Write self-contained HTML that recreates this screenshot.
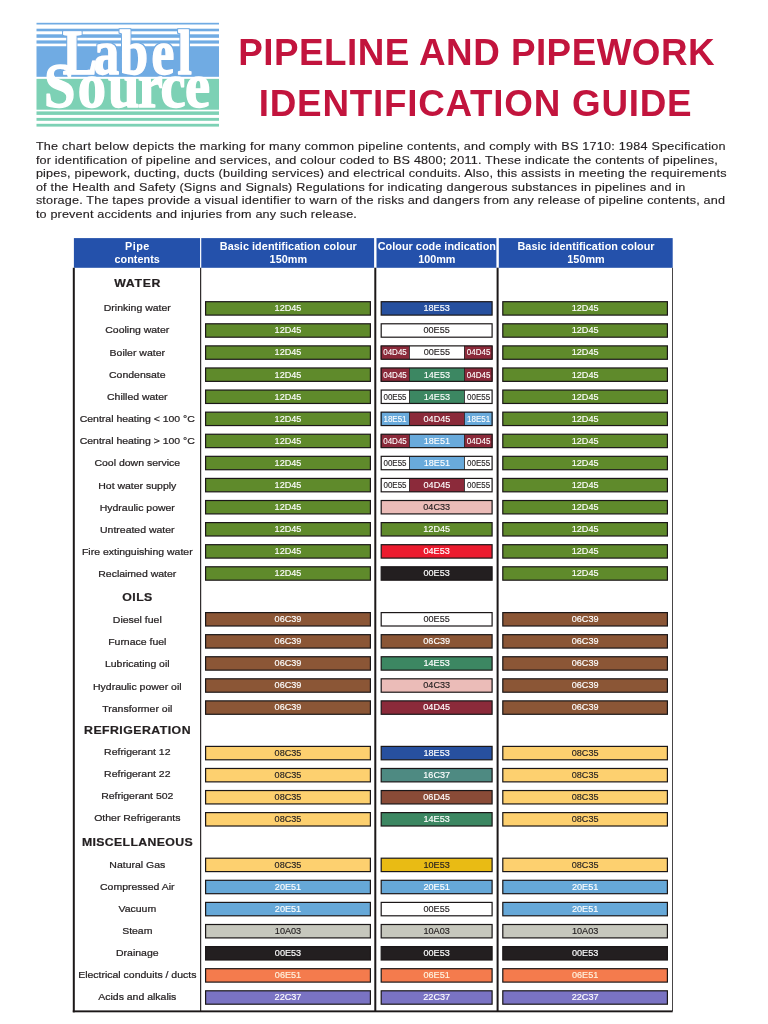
<!DOCTYPE html>
<html lang="en">
<head>
<meta charset="utf-8">
<title>Pipeline and Pipework Identification Guide</title>
<style>
html,body{margin:0;padding:0;background:#fff;}
body{width:768px;height:1024px;overflow:hidden;}
svg{display:block;}
text{white-space:pre;}
</style>
</head>
<body>
<svg width="768" height="1024" viewBox="0 0 768 1024">
<rect x="0" y="0" width="768" height="1024" fill="#ffffff"/>
<g id="logo">
<rect x="36.50" y="22.80" width="182.50" height="1.70" fill="#70abe3"/>
<rect x="36.50" y="28.70" width="182.50" height="2.60" fill="#70abe3"/>
<rect x="36.50" y="34.30" width="182.50" height="3.50" fill="#70abe3"/>
<rect x="36.50" y="40.40" width="182.50" height="3.20" fill="#70abe3"/>
<rect x="36.50" y="46.25" width="182.50" height="30.55" fill="#70abe3"/>
<rect x="36.50" y="78.85" width="182.50" height="30.85" fill="#7dd1b5"/>
<rect x="36.50" y="111.40" width="182.50" height="3.50" fill="#7dd1b5"/>
<rect x="36.50" y="117.90" width="182.50" height="2.90" fill="#7dd1b5"/>
<rect x="36.50" y="123.80" width="182.50" height="2.80" fill="#7dd1b5"/>
<defs><filter id="halo" x="-5%" y="-10%" width="110%" height="120%"><feMorphology in="SourceAlpha" operator="dilate" radius="1.3 1.05" result="d"/><feFlood flood-color="#70abe3"/><feComposite in2="d" operator="in" result="h"/><feMerge><feMergeNode in="h"/><feMergeNode in="SourceGraphic"/></feMerge></filter></defs>
<text transform="translate(62.8 73.5) scale(0.76 0.943)" font-family="'Liberation Serif', serif" font-weight="bold" font-size="67.5" fill="#ffffff" stroke="#ffffff" stroke-width="1.5" stroke-linejoin="round" filter="url(#halo)" x="0.00 40.53 74.74 116.84 151.05">Label</text>
<text transform="translate(44.0 107.0) scale(0.85 0.943)" font-family="'Liberation Serif', serif" font-weight="bold" font-size="66.5" fill="#ffffff" stroke="#ffffff" stroke-width="1.5" stroke-linejoin="round" x="0.00 39.65 75.29 110.35 136.94 165.76">Source</text>
</g>
<g id="title">
<text transform="translate(476.40 64.75)" font-family="'Liberation Sans', sans-serif" font-size="36.8" font-weight="bold" fill="#c2143d" text-anchor="middle" textLength="476.4" lengthAdjust="spacing">PIPELINE AND PIPEWORK</text>
<text transform="translate(475.20 115.85)" font-family="'Liberation Sans', sans-serif" font-size="36.8" font-weight="bold" fill="#c2143d" text-anchor="middle" textLength="432.8" lengthAdjust="spacing">IDENTIFICATION GUIDE</text>
</g>
<g id="intro">
<text transform="translate(35.90 150.00) scale(1.08 0.943)" font-family="'Liberation Sans', sans-serif" font-size="11.7" fill="#231f20" text-anchor="start" textLength="638.61" lengthAdjust="spacing" stroke="#231f20" stroke-width="0.15">The chart below depicts the marking for many common pipeline contents, and comply with BS 1710: 1984 Specification</text>
<text transform="translate(35.90 163.59) scale(1.08 0.943)" font-family="'Liberation Sans', sans-serif" font-size="11.7" fill="#231f20" text-anchor="start" textLength="631.30" lengthAdjust="spacing" stroke="#231f20" stroke-width="0.15">for identification of pipeline and services, and colour coded to BS 4800; 2011. These indicate the contents of pipelines,</text>
<text transform="translate(35.90 177.19) scale(1.08 0.943)" font-family="'Liberation Sans', sans-serif" font-size="11.7" fill="#231f20" text-anchor="start" textLength="639.54" lengthAdjust="spacing" stroke="#231f20" stroke-width="0.15">pipes, pipework, ducting, ducts (building services) and electrical conduits. Also, this assists in meeting the requirements</text>
<text transform="translate(35.90 190.78) scale(1.08 0.943)" font-family="'Liberation Sans', sans-serif" font-size="11.7" fill="#231f20" text-anchor="start" textLength="601.39" lengthAdjust="spacing" stroke="#231f20" stroke-width="0.15">of the Health and Safety (Signs and Signals) Regulations for indicating dangerous substances in pipelines and in</text>
<text transform="translate(35.90 204.38) scale(1.08 0.943)" font-family="'Liberation Sans', sans-serif" font-size="11.7" fill="#231f20" text-anchor="start" textLength="638.06" lengthAdjust="spacing" stroke="#231f20" stroke-width="0.15">storage. The tapes provide a visual identifier to warn of the risks and dangers from any release of pipeline contents, and</text>
<text transform="translate(35.90 217.97) scale(1.08 0.943)" font-family="'Liberation Sans', sans-serif" font-size="11.7" fill="#231f20" text-anchor="start" textLength="297.22" lengthAdjust="spacing" stroke="#231f20" stroke-width="0.15">to prevent accidents and injuries from any such release.</text>
</g>
<g id="chart">
<rect x="73.90" y="238.10" width="598.80" height="29.70" fill="#2451ab"/>
<rect x="200.05" y="237.90" width="1.20" height="29.90" fill="#ffffff"/>
<rect x="374.10" y="237.90" width="2.40" height="29.90" fill="#ffffff"/>
<rect x="496.40" y="237.90" width="2.40" height="29.90" fill="#ffffff"/>
<rect x="72.80" y="267.80" width="2.00" height="744.50" fill="#1b1718"/>
<rect x="72.80" y="1010.40" width="599.90" height="1.90" fill="#1b1718"/>
<rect x="672.00" y="267.80" width="0.80" height="743.20" fill="#1b1718"/>
<rect x="200.10" y="267.80" width="1.10" height="743.20" fill="#1b1718"/>
<rect x="374.30" y="267.80" width="2.00" height="743.20" fill="#1b1718"/>
<rect x="496.60" y="267.80" width="2.00" height="743.20" fill="#1b1718"/>
<text transform="translate(137.20 250.10) scale(0.96 0.943)" font-family="'Liberation Sans', sans-serif" font-size="11.3" font-weight="bold" fill="#fff" text-anchor="middle" textLength="25.31" lengthAdjust="spacing">Pipe</text>
<text transform="translate(137.20 263.30) scale(0.96 0.943)" font-family="'Liberation Sans', sans-serif" font-size="11.3" font-weight="bold" fill="#fff" text-anchor="middle" textLength="47.19" lengthAdjust="spacing">contents</text>
<text transform="translate(288.30 250.10) scale(0.96 0.943)" font-family="'Liberation Sans', sans-serif" font-size="11.3" font-weight="bold" fill="#fff" text-anchor="middle" textLength="142.81" lengthAdjust="spacing">Basic identification colour</text>
<text transform="translate(288.30 263.30) scale(0.96 0.943)" font-family="'Liberation Sans', sans-serif" font-size="11.3" font-weight="bold" fill="#fff" text-anchor="middle" textLength="39.06" lengthAdjust="spacing">150mm</text>
<text transform="translate(436.80 250.10) scale(0.96 0.943)" font-family="'Liberation Sans', sans-serif" font-size="11.3" font-weight="bold" fill="#fff" text-anchor="middle" textLength="123.23" lengthAdjust="spacing">Colour code indication</text>
<text transform="translate(436.80 263.30) scale(0.96 0.943)" font-family="'Liberation Sans', sans-serif" font-size="11.3" font-weight="bold" fill="#fff" text-anchor="middle" textLength="38.85" lengthAdjust="spacing">100mm</text>
<text transform="translate(586.00 250.10) scale(0.96 0.943)" font-family="'Liberation Sans', sans-serif" font-size="11.3" font-weight="bold" fill="#fff" text-anchor="middle" textLength="142.81" lengthAdjust="spacing">Basic identification colour</text>
<text transform="translate(586.00 263.30) scale(0.96 0.943)" font-family="'Liberation Sans', sans-serif" font-size="11.3" font-weight="bold" fill="#fff" text-anchor="middle" textLength="39.06" lengthAdjust="spacing">150mm</text>
<text transform="translate(137.28 287.00) scale(1.15 0.943)" font-family="'Liberation Sans', sans-serif" font-size="10.7" font-weight="bold" fill="#231f20" text-anchor="middle" textLength="40.26" lengthAdjust="spacing" stroke="#231f20" stroke-width="0.2">WATER</text>
<text transform="translate(137.28 311.16) scale(1.0 0.943)" font-family="'Liberation Sans', sans-serif" font-size="10.5" fill="#231f20" text-anchor="middle" stroke="#231f20" stroke-width="0.25">Drinking water</text>
<rect x="205.60" y="301.70" width="164.80" height="13.40" fill="#5f8a2b" stroke="#1b1718" stroke-width="1.2"/>
<text transform="translate(288.00 311.30) scale(1.0 0.943)" font-family="'Liberation Sans', sans-serif" font-size="9.1" fill="#fff" text-anchor="middle" stroke="#fff" stroke-width="0.15">12D45</text>
<rect x="381.20" y="301.70" width="110.90" height="13.40" fill="#27509f" stroke="#1b1718" stroke-width="1.2"/>
<text transform="translate(436.65 311.30) scale(1.0 0.943)" font-family="'Liberation Sans', sans-serif" font-size="9.1" fill="#fff" text-anchor="middle" stroke="#fff" stroke-width="0.15">18E53</text>
<rect x="502.80" y="301.70" width="164.60" height="13.40" fill="#5f8a2b" stroke="#1b1718" stroke-width="1.2"/>
<text transform="translate(585.10 311.30) scale(1.0 0.943)" font-family="'Liberation Sans', sans-serif" font-size="9.1" fill="#fff" text-anchor="middle" stroke="#fff" stroke-width="0.15">12D45</text>
<text transform="translate(137.28 333.34) scale(1.0 0.943)" font-family="'Liberation Sans', sans-serif" font-size="10.5" fill="#231f20" text-anchor="middle" stroke="#231f20" stroke-width="0.25">Cooling water</text>
<rect x="205.60" y="323.79" width="164.80" height="13.40" fill="#5f8a2b" stroke="#1b1718" stroke-width="1.2"/>
<text transform="translate(288.00 333.39) scale(1.0 0.943)" font-family="'Liberation Sans', sans-serif" font-size="9.1" fill="#fff" text-anchor="middle" stroke="#fff" stroke-width="0.15">12D45</text>
<rect x="381.20" y="323.79" width="110.90" height="13.40" fill="#ffffff" stroke="#1b1718" stroke-width="1.2"/>
<text transform="translate(436.65 333.39) scale(1.0 0.943)" font-family="'Liberation Sans', sans-serif" font-size="9.1" fill="#231f20" text-anchor="middle" stroke="#231f20" stroke-width="0.15">00E55</text>
<rect x="502.80" y="323.79" width="164.60" height="13.40" fill="#5f8a2b" stroke="#1b1718" stroke-width="1.2"/>
<text transform="translate(585.10 333.39) scale(1.0 0.943)" font-family="'Liberation Sans', sans-serif" font-size="9.1" fill="#fff" text-anchor="middle" stroke="#fff" stroke-width="0.15">12D45</text>
<text transform="translate(137.28 355.52) scale(1.0 0.943)" font-family="'Liberation Sans', sans-serif" font-size="10.5" fill="#231f20" text-anchor="middle" stroke="#231f20" stroke-width="0.25">Boiler water</text>
<rect x="205.60" y="345.88" width="164.80" height="13.40" fill="#5f8a2b" stroke="#1b1718" stroke-width="1.2"/>
<text transform="translate(288.00 355.48) scale(1.0 0.943)" font-family="'Liberation Sans', sans-serif" font-size="9.1" fill="#fff" text-anchor="middle" stroke="#fff" stroke-width="0.15">12D45</text>
<rect x="380.60" y="345.78" width="28.80" height="13.60" fill="#8b2a3a"/>
<rect x="409.40" y="345.78" width="55.00" height="13.60" fill="#ffffff"/>
<rect x="464.40" y="345.78" width="28.30" height="13.60" fill="#8b2a3a"/>
<rect x="381.20" y="345.88" width="110.90" height="13.40" fill="none" stroke="#1b1718" stroke-width="1.2"/>
<rect x="409.00" y="345.78" width="0.80" height="13.60" fill="#1b1718"/>
<rect x="464.00" y="345.78" width="0.80" height="13.60" fill="#1b1718"/>
<text transform="translate(395.00 355.48) scale(0.88 0.943)" font-family="'Liberation Sans', sans-serif" font-size="9.1" fill="#fff" text-anchor="middle" stroke="#fff" stroke-width="0.12">04D45</text>
<text transform="translate(436.90 355.48) scale(1.0 0.943)" font-family="'Liberation Sans', sans-serif" font-size="9.1" fill="#231f20" text-anchor="middle" stroke="#231f20" stroke-width="0.12">00E55</text>
<text transform="translate(478.55 355.48) scale(0.88 0.943)" font-family="'Liberation Sans', sans-serif" font-size="9.1" fill="#fff" text-anchor="middle" stroke="#fff" stroke-width="0.12">04D45</text>
<rect x="502.80" y="345.88" width="164.60" height="13.40" fill="#5f8a2b" stroke="#1b1718" stroke-width="1.2"/>
<text transform="translate(585.10 355.48) scale(1.0 0.943)" font-family="'Liberation Sans', sans-serif" font-size="9.1" fill="#fff" text-anchor="middle" stroke="#fff" stroke-width="0.15">12D45</text>
<text transform="translate(137.28 377.70) scale(1.0 0.943)" font-family="'Liberation Sans', sans-serif" font-size="10.5" fill="#231f20" text-anchor="middle" stroke="#231f20" stroke-width="0.25">Condensate</text>
<rect x="205.60" y="367.97" width="164.80" height="13.40" fill="#5f8a2b" stroke="#1b1718" stroke-width="1.2"/>
<text transform="translate(288.00 377.57) scale(1.0 0.943)" font-family="'Liberation Sans', sans-serif" font-size="9.1" fill="#fff" text-anchor="middle" stroke="#fff" stroke-width="0.15">12D45</text>
<rect x="380.60" y="367.87" width="28.80" height="13.60" fill="#8b2a3a"/>
<rect x="409.40" y="367.87" width="55.00" height="13.60" fill="#3c8762"/>
<rect x="464.40" y="367.87" width="28.30" height="13.60" fill="#8b2a3a"/>
<rect x="381.20" y="367.97" width="110.90" height="13.40" fill="none" stroke="#1b1718" stroke-width="1.2"/>
<rect x="409.00" y="367.87" width="0.80" height="13.60" fill="#1b1718"/>
<rect x="464.00" y="367.87" width="0.80" height="13.60" fill="#1b1718"/>
<text transform="translate(395.00 377.57) scale(0.88 0.943)" font-family="'Liberation Sans', sans-serif" font-size="9.1" fill="#fff" text-anchor="middle" stroke="#fff" stroke-width="0.12">04D45</text>
<text transform="translate(436.90 377.57) scale(1.0 0.943)" font-family="'Liberation Sans', sans-serif" font-size="9.1" fill="#fff" text-anchor="middle" stroke="#fff" stroke-width="0.12">14E53</text>
<text transform="translate(478.55 377.57) scale(0.88 0.943)" font-family="'Liberation Sans', sans-serif" font-size="9.1" fill="#fff" text-anchor="middle" stroke="#fff" stroke-width="0.12">04D45</text>
<rect x="502.80" y="367.97" width="164.60" height="13.40" fill="#5f8a2b" stroke="#1b1718" stroke-width="1.2"/>
<text transform="translate(585.10 377.57) scale(1.0 0.943)" font-family="'Liberation Sans', sans-serif" font-size="9.1" fill="#fff" text-anchor="middle" stroke="#fff" stroke-width="0.15">12D45</text>
<text transform="translate(137.28 399.88) scale(1.0 0.943)" font-family="'Liberation Sans', sans-serif" font-size="10.5" fill="#231f20" text-anchor="middle" stroke="#231f20" stroke-width="0.25">Chilled water</text>
<rect x="205.60" y="390.06" width="164.80" height="13.40" fill="#5f8a2b" stroke="#1b1718" stroke-width="1.2"/>
<text transform="translate(288.00 399.66) scale(1.0 0.943)" font-family="'Liberation Sans', sans-serif" font-size="9.1" fill="#fff" text-anchor="middle" stroke="#fff" stroke-width="0.15">12D45</text>
<rect x="380.60" y="389.96" width="28.80" height="13.60" fill="#ffffff"/>
<rect x="409.40" y="389.96" width="55.00" height="13.60" fill="#3c8762"/>
<rect x="464.40" y="389.96" width="28.30" height="13.60" fill="#ffffff"/>
<rect x="381.20" y="390.06" width="110.90" height="13.40" fill="none" stroke="#1b1718" stroke-width="1.2"/>
<rect x="409.00" y="389.96" width="0.80" height="13.60" fill="#1b1718"/>
<rect x="464.00" y="389.96" width="0.80" height="13.60" fill="#1b1718"/>
<text transform="translate(395.00 399.66) scale(0.88 0.943)" font-family="'Liberation Sans', sans-serif" font-size="9.1" fill="#231f20" text-anchor="middle" stroke="#231f20" stroke-width="0.12">00E55</text>
<text transform="translate(436.90 399.66) scale(1.0 0.943)" font-family="'Liberation Sans', sans-serif" font-size="9.1" fill="#fff" text-anchor="middle" stroke="#fff" stroke-width="0.12">14E53</text>
<text transform="translate(478.55 399.66) scale(0.88 0.943)" font-family="'Liberation Sans', sans-serif" font-size="9.1" fill="#231f20" text-anchor="middle" stroke="#231f20" stroke-width="0.12">00E55</text>
<rect x="502.80" y="390.06" width="164.60" height="13.40" fill="#5f8a2b" stroke="#1b1718" stroke-width="1.2"/>
<text transform="translate(585.10 399.66) scale(1.0 0.943)" font-family="'Liberation Sans', sans-serif" font-size="9.1" fill="#fff" text-anchor="middle" stroke="#fff" stroke-width="0.15">12D45</text>
<text transform="translate(137.28 422.06) scale(1.0 0.943)" font-family="'Liberation Sans', sans-serif" font-size="10.5" fill="#231f20" text-anchor="middle" stroke="#231f20" stroke-width="0.25">Central heating &lt; 100 °C</text>
<rect x="205.60" y="412.15" width="164.80" height="13.40" fill="#5f8a2b" stroke="#1b1718" stroke-width="1.2"/>
<text transform="translate(288.00 421.75) scale(1.0 0.943)" font-family="'Liberation Sans', sans-serif" font-size="9.1" fill="#fff" text-anchor="middle" stroke="#fff" stroke-width="0.15">12D45</text>
<rect x="380.60" y="412.05" width="28.80" height="13.60" fill="#69aadb"/>
<rect x="409.40" y="412.05" width="55.00" height="13.60" fill="#8b2a3a"/>
<rect x="464.40" y="412.05" width="28.30" height="13.60" fill="#69aadb"/>
<rect x="381.20" y="412.15" width="110.90" height="13.40" fill="none" stroke="#1b1718" stroke-width="1.2"/>
<rect x="409.00" y="412.05" width="0.80" height="13.60" fill="#1b1718"/>
<rect x="464.00" y="412.05" width="0.80" height="13.60" fill="#1b1718"/>
<text transform="translate(395.00 421.75) scale(0.88 0.943)" font-family="'Liberation Sans', sans-serif" font-size="9.1" fill="#fff" text-anchor="middle" stroke="#fff" stroke-width="0.12">18E51</text>
<text transform="translate(436.90 421.75) scale(1.0 0.943)" font-family="'Liberation Sans', sans-serif" font-size="9.1" fill="#fff" text-anchor="middle" stroke="#fff" stroke-width="0.12">04D45</text>
<text transform="translate(478.55 421.75) scale(0.88 0.943)" font-family="'Liberation Sans', sans-serif" font-size="9.1" fill="#fff" text-anchor="middle" stroke="#fff" stroke-width="0.12">18E51</text>
<rect x="502.80" y="412.15" width="164.60" height="13.40" fill="#5f8a2b" stroke="#1b1718" stroke-width="1.2"/>
<text transform="translate(585.10 421.75) scale(1.0 0.943)" font-family="'Liberation Sans', sans-serif" font-size="9.1" fill="#fff" text-anchor="middle" stroke="#fff" stroke-width="0.15">12D45</text>
<text transform="translate(137.28 444.24) scale(1.0 0.943)" font-family="'Liberation Sans', sans-serif" font-size="10.5" fill="#231f20" text-anchor="middle" stroke="#231f20" stroke-width="0.25">Central heating &gt; 100 °C</text>
<rect x="205.60" y="434.24" width="164.80" height="13.40" fill="#5f8a2b" stroke="#1b1718" stroke-width="1.2"/>
<text transform="translate(288.00 443.84) scale(1.0 0.943)" font-family="'Liberation Sans', sans-serif" font-size="9.1" fill="#fff" text-anchor="middle" stroke="#fff" stroke-width="0.15">12D45</text>
<rect x="380.60" y="434.14" width="28.80" height="13.60" fill="#8b2a3a"/>
<rect x="409.40" y="434.14" width="55.00" height="13.60" fill="#69aadb"/>
<rect x="464.40" y="434.14" width="28.30" height="13.60" fill="#8b2a3a"/>
<rect x="381.20" y="434.24" width="110.90" height="13.40" fill="none" stroke="#1b1718" stroke-width="1.2"/>
<rect x="409.00" y="434.14" width="0.80" height="13.60" fill="#1b1718"/>
<rect x="464.00" y="434.14" width="0.80" height="13.60" fill="#1b1718"/>
<text transform="translate(395.00 443.84) scale(0.88 0.943)" font-family="'Liberation Sans', sans-serif" font-size="9.1" fill="#fff" text-anchor="middle" stroke="#fff" stroke-width="0.12">04D45</text>
<text transform="translate(436.90 443.84) scale(1.0 0.943)" font-family="'Liberation Sans', sans-serif" font-size="9.1" fill="#fff" text-anchor="middle" stroke="#fff" stroke-width="0.12">18E51</text>
<text transform="translate(478.55 443.84) scale(0.88 0.943)" font-family="'Liberation Sans', sans-serif" font-size="9.1" fill="#fff" text-anchor="middle" stroke="#fff" stroke-width="0.12">04D45</text>
<rect x="502.80" y="434.24" width="164.60" height="13.40" fill="#5f8a2b" stroke="#1b1718" stroke-width="1.2"/>
<text transform="translate(585.10 443.84) scale(1.0 0.943)" font-family="'Liberation Sans', sans-serif" font-size="9.1" fill="#fff" text-anchor="middle" stroke="#fff" stroke-width="0.15">12D45</text>
<text transform="translate(137.28 466.42) scale(1.0 0.943)" font-family="'Liberation Sans', sans-serif" font-size="10.5" fill="#231f20" text-anchor="middle" stroke="#231f20" stroke-width="0.25">Cool down service</text>
<rect x="205.60" y="456.33" width="164.80" height="13.40" fill="#5f8a2b" stroke="#1b1718" stroke-width="1.2"/>
<text transform="translate(288.00 465.93) scale(1.0 0.943)" font-family="'Liberation Sans', sans-serif" font-size="9.1" fill="#fff" text-anchor="middle" stroke="#fff" stroke-width="0.15">12D45</text>
<rect x="380.60" y="456.23" width="28.80" height="13.60" fill="#ffffff"/>
<rect x="409.40" y="456.23" width="55.00" height="13.60" fill="#69aadb"/>
<rect x="464.40" y="456.23" width="28.30" height="13.60" fill="#ffffff"/>
<rect x="381.20" y="456.33" width="110.90" height="13.40" fill="none" stroke="#1b1718" stroke-width="1.2"/>
<rect x="409.00" y="456.23" width="0.80" height="13.60" fill="#1b1718"/>
<rect x="464.00" y="456.23" width="0.80" height="13.60" fill="#1b1718"/>
<text transform="translate(395.00 465.93) scale(0.88 0.943)" font-family="'Liberation Sans', sans-serif" font-size="9.1" fill="#231f20" text-anchor="middle" stroke="#231f20" stroke-width="0.12">00E55</text>
<text transform="translate(436.90 465.93) scale(1.0 0.943)" font-family="'Liberation Sans', sans-serif" font-size="9.1" fill="#fff" text-anchor="middle" stroke="#fff" stroke-width="0.12">18E51</text>
<text transform="translate(478.55 465.93) scale(0.88 0.943)" font-family="'Liberation Sans', sans-serif" font-size="9.1" fill="#231f20" text-anchor="middle" stroke="#231f20" stroke-width="0.12">00E55</text>
<rect x="502.80" y="456.33" width="164.60" height="13.40" fill="#5f8a2b" stroke="#1b1718" stroke-width="1.2"/>
<text transform="translate(585.10 465.93) scale(1.0 0.943)" font-family="'Liberation Sans', sans-serif" font-size="9.1" fill="#fff" text-anchor="middle" stroke="#fff" stroke-width="0.15">12D45</text>
<text transform="translate(137.28 488.60) scale(1.0 0.943)" font-family="'Liberation Sans', sans-serif" font-size="10.5" fill="#231f20" text-anchor="middle" stroke="#231f20" stroke-width="0.25">Hot water supply</text>
<rect x="205.60" y="478.42" width="164.80" height="13.40" fill="#5f8a2b" stroke="#1b1718" stroke-width="1.2"/>
<text transform="translate(288.00 488.02) scale(1.0 0.943)" font-family="'Liberation Sans', sans-serif" font-size="9.1" fill="#fff" text-anchor="middle" stroke="#fff" stroke-width="0.15">12D45</text>
<rect x="380.60" y="478.32" width="28.80" height="13.60" fill="#ffffff"/>
<rect x="409.40" y="478.32" width="55.00" height="13.60" fill="#8b2a3a"/>
<rect x="464.40" y="478.32" width="28.30" height="13.60" fill="#ffffff"/>
<rect x="381.20" y="478.42" width="110.90" height="13.40" fill="none" stroke="#1b1718" stroke-width="1.2"/>
<rect x="409.00" y="478.32" width="0.80" height="13.60" fill="#1b1718"/>
<rect x="464.00" y="478.32" width="0.80" height="13.60" fill="#1b1718"/>
<text transform="translate(395.00 488.02) scale(0.88 0.943)" font-family="'Liberation Sans', sans-serif" font-size="9.1" fill="#231f20" text-anchor="middle" stroke="#231f20" stroke-width="0.12">00E55</text>
<text transform="translate(436.90 488.02) scale(1.0 0.943)" font-family="'Liberation Sans', sans-serif" font-size="9.1" fill="#fff" text-anchor="middle" stroke="#fff" stroke-width="0.12">04D45</text>
<text transform="translate(478.55 488.02) scale(0.88 0.943)" font-family="'Liberation Sans', sans-serif" font-size="9.1" fill="#231f20" text-anchor="middle" stroke="#231f20" stroke-width="0.12">00E55</text>
<rect x="502.80" y="478.42" width="164.60" height="13.40" fill="#5f8a2b" stroke="#1b1718" stroke-width="1.2"/>
<text transform="translate(585.10 488.02) scale(1.0 0.943)" font-family="'Liberation Sans', sans-serif" font-size="9.1" fill="#fff" text-anchor="middle" stroke="#fff" stroke-width="0.15">12D45</text>
<text transform="translate(137.28 510.78) scale(1.0 0.943)" font-family="'Liberation Sans', sans-serif" font-size="10.5" fill="#231f20" text-anchor="middle" stroke="#231f20" stroke-width="0.25">Hydraulic power</text>
<rect x="205.60" y="500.51" width="164.80" height="13.40" fill="#5f8a2b" stroke="#1b1718" stroke-width="1.2"/>
<text transform="translate(288.00 510.11) scale(1.0 0.943)" font-family="'Liberation Sans', sans-serif" font-size="9.1" fill="#fff" text-anchor="middle" stroke="#fff" stroke-width="0.15">12D45</text>
<rect x="381.20" y="500.51" width="110.90" height="13.40" fill="#ebbcb8" stroke="#1b1718" stroke-width="1.2"/>
<text transform="translate(436.65 510.11) scale(1.0 0.943)" font-family="'Liberation Sans', sans-serif" font-size="9.1" fill="#231f20" text-anchor="middle" stroke="#231f20" stroke-width="0.15">04C33</text>
<rect x="502.80" y="500.51" width="164.60" height="13.40" fill="#5f8a2b" stroke="#1b1718" stroke-width="1.2"/>
<text transform="translate(585.10 510.11) scale(1.0 0.943)" font-family="'Liberation Sans', sans-serif" font-size="9.1" fill="#fff" text-anchor="middle" stroke="#fff" stroke-width="0.15">12D45</text>
<text transform="translate(137.28 532.96) scale(1.0 0.943)" font-family="'Liberation Sans', sans-serif" font-size="10.5" fill="#231f20" text-anchor="middle" stroke="#231f20" stroke-width="0.25">Untreated water</text>
<rect x="205.60" y="522.60" width="164.80" height="13.40" fill="#5f8a2b" stroke="#1b1718" stroke-width="1.2"/>
<text transform="translate(288.00 532.20) scale(1.0 0.943)" font-family="'Liberation Sans', sans-serif" font-size="9.1" fill="#fff" text-anchor="middle" stroke="#fff" stroke-width="0.15">12D45</text>
<rect x="381.20" y="522.60" width="110.90" height="13.40" fill="#5f8a2b" stroke="#1b1718" stroke-width="1.2"/>
<text transform="translate(436.65 532.20) scale(1.0 0.943)" font-family="'Liberation Sans', sans-serif" font-size="9.1" fill="#fff" text-anchor="middle" stroke="#fff" stroke-width="0.15">12D45</text>
<rect x="502.80" y="522.60" width="164.60" height="13.40" fill="#5f8a2b" stroke="#1b1718" stroke-width="1.2"/>
<text transform="translate(585.10 532.20) scale(1.0 0.943)" font-family="'Liberation Sans', sans-serif" font-size="9.1" fill="#fff" text-anchor="middle" stroke="#fff" stroke-width="0.15">12D45</text>
<text transform="translate(137.28 555.14) scale(1.0 0.943)" font-family="'Liberation Sans', sans-serif" font-size="10.5" fill="#231f20" text-anchor="middle" stroke="#231f20" stroke-width="0.25">Fire extinguishing water</text>
<rect x="205.60" y="544.69" width="164.80" height="13.40" fill="#5f8a2b" stroke="#1b1718" stroke-width="1.2"/>
<text transform="translate(288.00 554.29) scale(1.0 0.943)" font-family="'Liberation Sans', sans-serif" font-size="9.1" fill="#fff" text-anchor="middle" stroke="#fff" stroke-width="0.15">12D45</text>
<rect x="381.20" y="544.69" width="110.90" height="13.40" fill="#ec1b2e" stroke="#1b1718" stroke-width="1.2"/>
<text transform="translate(436.65 554.29) scale(1.0 0.943)" font-family="'Liberation Sans', sans-serif" font-size="9.1" fill="#fff" text-anchor="middle" stroke="#fff" stroke-width="0.15">04E53</text>
<rect x="502.80" y="544.69" width="164.60" height="13.40" fill="#5f8a2b" stroke="#1b1718" stroke-width="1.2"/>
<text transform="translate(585.10 554.29) scale(1.0 0.943)" font-family="'Liberation Sans', sans-serif" font-size="9.1" fill="#fff" text-anchor="middle" stroke="#fff" stroke-width="0.15">12D45</text>
<text transform="translate(137.28 577.32) scale(1.0 0.943)" font-family="'Liberation Sans', sans-serif" font-size="10.5" fill="#231f20" text-anchor="middle" stroke="#231f20" stroke-width="0.25">Reclaimed water</text>
<rect x="205.60" y="566.78" width="164.80" height="13.40" fill="#5f8a2b" stroke="#1b1718" stroke-width="1.2"/>
<text transform="translate(288.00 576.38) scale(1.0 0.943)" font-family="'Liberation Sans', sans-serif" font-size="9.1" fill="#fff" text-anchor="middle" stroke="#fff" stroke-width="0.15">12D45</text>
<rect x="381.20" y="566.78" width="110.90" height="13.40" fill="#231f20" stroke="#1b1718" stroke-width="1.2"/>
<text transform="translate(436.65 576.38) scale(1.0 0.943)" font-family="'Liberation Sans', sans-serif" font-size="9.1" fill="#fff" text-anchor="middle" stroke="#fff" stroke-width="0.15">00E53</text>
<rect x="502.80" y="566.78" width="164.60" height="13.40" fill="#5f8a2b" stroke="#1b1718" stroke-width="1.2"/>
<text transform="translate(585.10 576.38) scale(1.0 0.943)" font-family="'Liberation Sans', sans-serif" font-size="9.1" fill="#fff" text-anchor="middle" stroke="#fff" stroke-width="0.15">12D45</text>
<text transform="translate(137.28 600.70) scale(1.15 0.943)" font-family="'Liberation Sans', sans-serif" font-size="10.7" font-weight="bold" fill="#231f20" text-anchor="middle" textLength="26.09" lengthAdjust="spacing" stroke="#231f20" stroke-width="0.2">OILS</text>
<text transform="translate(137.28 622.90) scale(1.0 0.943)" font-family="'Liberation Sans', sans-serif" font-size="10.5" fill="#231f20" text-anchor="middle" stroke="#231f20" stroke-width="0.25">Diesel fuel</text>
<rect x="205.60" y="612.60" width="164.80" height="13.40" fill="#8b5636" stroke="#1b1718" stroke-width="1.2"/>
<text transform="translate(288.00 622.20) scale(1.0 0.943)" font-family="'Liberation Sans', sans-serif" font-size="9.1" fill="#fff" text-anchor="middle" stroke="#fff" stroke-width="0.15">06C39</text>
<rect x="381.20" y="612.60" width="110.90" height="13.40" fill="#ffffff" stroke="#1b1718" stroke-width="1.2"/>
<text transform="translate(436.65 622.20) scale(1.0 0.943)" font-family="'Liberation Sans', sans-serif" font-size="9.1" fill="#231f20" text-anchor="middle" stroke="#231f20" stroke-width="0.15">00E55</text>
<rect x="502.80" y="612.60" width="164.60" height="13.40" fill="#8b5636" stroke="#1b1718" stroke-width="1.2"/>
<text transform="translate(585.10 622.20) scale(1.0 0.943)" font-family="'Liberation Sans', sans-serif" font-size="9.1" fill="#fff" text-anchor="middle" stroke="#fff" stroke-width="0.15">06C39</text>
<text transform="translate(137.28 645.12) scale(1.0 0.943)" font-family="'Liberation Sans', sans-serif" font-size="10.5" fill="#231f20" text-anchor="middle" stroke="#231f20" stroke-width="0.25">Furnace fuel</text>
<rect x="205.60" y="634.67" width="164.80" height="13.40" fill="#8b5636" stroke="#1b1718" stroke-width="1.2"/>
<text transform="translate(288.00 644.27) scale(1.0 0.943)" font-family="'Liberation Sans', sans-serif" font-size="9.1" fill="#fff" text-anchor="middle" stroke="#fff" stroke-width="0.15">06C39</text>
<rect x="381.20" y="634.67" width="110.90" height="13.40" fill="#8b5636" stroke="#1b1718" stroke-width="1.2"/>
<text transform="translate(436.65 644.27) scale(1.0 0.943)" font-family="'Liberation Sans', sans-serif" font-size="9.1" fill="#fff" text-anchor="middle" stroke="#fff" stroke-width="0.15">06C39</text>
<rect x="502.80" y="634.67" width="164.60" height="13.40" fill="#8b5636" stroke="#1b1718" stroke-width="1.2"/>
<text transform="translate(585.10 644.27) scale(1.0 0.943)" font-family="'Liberation Sans', sans-serif" font-size="9.1" fill="#fff" text-anchor="middle" stroke="#fff" stroke-width="0.15">06C39</text>
<text transform="translate(137.28 667.34) scale(1.0 0.943)" font-family="'Liberation Sans', sans-serif" font-size="10.5" fill="#231f20" text-anchor="middle" stroke="#231f20" stroke-width="0.25">Lubricating oil</text>
<rect x="205.60" y="656.74" width="164.80" height="13.40" fill="#8b5636" stroke="#1b1718" stroke-width="1.2"/>
<text transform="translate(288.00 666.34) scale(1.0 0.943)" font-family="'Liberation Sans', sans-serif" font-size="9.1" fill="#fff" text-anchor="middle" stroke="#fff" stroke-width="0.15">06C39</text>
<rect x="381.20" y="656.74" width="110.90" height="13.40" fill="#3c8762" stroke="#1b1718" stroke-width="1.2"/>
<text transform="translate(436.65 666.34) scale(1.0 0.943)" font-family="'Liberation Sans', sans-serif" font-size="9.1" fill="#fff" text-anchor="middle" stroke="#fff" stroke-width="0.15">14E53</text>
<rect x="502.80" y="656.74" width="164.60" height="13.40" fill="#8b5636" stroke="#1b1718" stroke-width="1.2"/>
<text transform="translate(585.10 666.34) scale(1.0 0.943)" font-family="'Liberation Sans', sans-serif" font-size="9.1" fill="#fff" text-anchor="middle" stroke="#fff" stroke-width="0.15">06C39</text>
<text transform="translate(137.28 689.56) scale(1.0 0.943)" font-family="'Liberation Sans', sans-serif" font-size="10.5" fill="#231f20" text-anchor="middle" stroke="#231f20" stroke-width="0.25">Hydraulic power oil</text>
<rect x="205.60" y="678.81" width="164.80" height="13.40" fill="#8b5636" stroke="#1b1718" stroke-width="1.2"/>
<text transform="translate(288.00 688.41) scale(1.0 0.943)" font-family="'Liberation Sans', sans-serif" font-size="9.1" fill="#fff" text-anchor="middle" stroke="#fff" stroke-width="0.15">06C39</text>
<rect x="381.20" y="678.81" width="110.90" height="13.40" fill="#ebbcb8" stroke="#1b1718" stroke-width="1.2"/>
<text transform="translate(436.65 688.41) scale(1.0 0.943)" font-family="'Liberation Sans', sans-serif" font-size="9.1" fill="#231f20" text-anchor="middle" stroke="#231f20" stroke-width="0.15">04C33</text>
<rect x="502.80" y="678.81" width="164.60" height="13.40" fill="#8b5636" stroke="#1b1718" stroke-width="1.2"/>
<text transform="translate(585.10 688.41) scale(1.0 0.943)" font-family="'Liberation Sans', sans-serif" font-size="9.1" fill="#fff" text-anchor="middle" stroke="#fff" stroke-width="0.15">06C39</text>
<text transform="translate(137.28 711.78) scale(1.0 0.943)" font-family="'Liberation Sans', sans-serif" font-size="10.5" fill="#231f20" text-anchor="middle" stroke="#231f20" stroke-width="0.25">Transformer oil</text>
<rect x="205.60" y="700.88" width="164.80" height="13.40" fill="#8b5636" stroke="#1b1718" stroke-width="1.2"/>
<text transform="translate(288.00 710.48) scale(1.0 0.943)" font-family="'Liberation Sans', sans-serif" font-size="9.1" fill="#fff" text-anchor="middle" stroke="#fff" stroke-width="0.15">06C39</text>
<rect x="381.20" y="700.88" width="110.90" height="13.40" fill="#8b2a3a" stroke="#1b1718" stroke-width="1.2"/>
<text transform="translate(436.65 710.48) scale(1.0 0.943)" font-family="'Liberation Sans', sans-serif" font-size="9.1" fill="#fff" text-anchor="middle" stroke="#fff" stroke-width="0.15">04D45</text>
<rect x="502.80" y="700.88" width="164.60" height="13.40" fill="#8b5636" stroke="#1b1718" stroke-width="1.2"/>
<text transform="translate(585.10 710.48) scale(1.0 0.943)" font-family="'Liberation Sans', sans-serif" font-size="9.1" fill="#fff" text-anchor="middle" stroke="#fff" stroke-width="0.15">06C39</text>
<text transform="translate(137.28 733.50) scale(1.15 0.943)" font-family="'Liberation Sans', sans-serif" font-size="10.7" font-weight="bold" fill="#231f20" text-anchor="middle" textLength="92.61" lengthAdjust="spacing" stroke="#231f20" stroke-width="0.2">REFRIGERATION</text>
<text transform="translate(137.28 755.20) scale(1.0 0.943)" font-family="'Liberation Sans', sans-serif" font-size="10.5" fill="#231f20" text-anchor="middle" stroke="#231f20" stroke-width="0.25">Refrigerant 12</text>
<rect x="205.60" y="746.40" width="164.80" height="13.40" fill="#fdd06f" stroke="#1b1718" stroke-width="1.2"/>
<text transform="translate(288.00 756.00) scale(1.0 0.943)" font-family="'Liberation Sans', sans-serif" font-size="9.1" fill="#231f20" text-anchor="middle" stroke="#231f20" stroke-width="0.15">08C35</text>
<rect x="381.20" y="746.40" width="110.90" height="13.40" fill="#27509f" stroke="#1b1718" stroke-width="1.2"/>
<text transform="translate(436.65 756.00) scale(1.0 0.943)" font-family="'Liberation Sans', sans-serif" font-size="9.1" fill="#fff" text-anchor="middle" stroke="#fff" stroke-width="0.15">18E53</text>
<rect x="502.80" y="746.40" width="164.60" height="13.40" fill="#fdd06f" stroke="#1b1718" stroke-width="1.2"/>
<text transform="translate(585.10 756.00) scale(1.0 0.943)" font-family="'Liberation Sans', sans-serif" font-size="9.1" fill="#231f20" text-anchor="middle" stroke="#231f20" stroke-width="0.15">08C35</text>
<text transform="translate(137.28 777.20) scale(1.0 0.943)" font-family="'Liberation Sans', sans-serif" font-size="10.5" fill="#231f20" text-anchor="middle" stroke="#231f20" stroke-width="0.25">Refrigerant 22</text>
<rect x="205.60" y="768.47" width="164.80" height="13.40" fill="#fdd06f" stroke="#1b1718" stroke-width="1.2"/>
<text transform="translate(288.00 778.07) scale(1.0 0.943)" font-family="'Liberation Sans', sans-serif" font-size="9.1" fill="#231f20" text-anchor="middle" stroke="#231f20" stroke-width="0.15">08C35</text>
<rect x="381.20" y="768.47" width="110.90" height="13.40" fill="#4e8a82" stroke="#1b1718" stroke-width="1.2"/>
<text transform="translate(436.65 778.07) scale(1.0 0.943)" font-family="'Liberation Sans', sans-serif" font-size="9.1" fill="#fff" text-anchor="middle" stroke="#fff" stroke-width="0.15">16C37</text>
<rect x="502.80" y="768.47" width="164.60" height="13.40" fill="#fdd06f" stroke="#1b1718" stroke-width="1.2"/>
<text transform="translate(585.10 778.07) scale(1.0 0.943)" font-family="'Liberation Sans', sans-serif" font-size="9.1" fill="#231f20" text-anchor="middle" stroke="#231f20" stroke-width="0.15">08C35</text>
<text transform="translate(137.28 799.20) scale(1.0 0.943)" font-family="'Liberation Sans', sans-serif" font-size="10.5" fill="#231f20" text-anchor="middle" stroke="#231f20" stroke-width="0.25">Refrigerant 502</text>
<rect x="205.60" y="790.54" width="164.80" height="13.40" fill="#fdd06f" stroke="#1b1718" stroke-width="1.2"/>
<text transform="translate(288.00 800.14) scale(1.0 0.943)" font-family="'Liberation Sans', sans-serif" font-size="9.1" fill="#231f20" text-anchor="middle" stroke="#231f20" stroke-width="0.15">08C35</text>
<rect x="381.20" y="790.54" width="110.90" height="13.40" fill="#8a4b37" stroke="#1b1718" stroke-width="1.2"/>
<text transform="translate(436.65 800.14) scale(1.0 0.943)" font-family="'Liberation Sans', sans-serif" font-size="9.1" fill="#fff" text-anchor="middle" stroke="#fff" stroke-width="0.15">06D45</text>
<rect x="502.80" y="790.54" width="164.60" height="13.40" fill="#fdd06f" stroke="#1b1718" stroke-width="1.2"/>
<text transform="translate(585.10 800.14) scale(1.0 0.943)" font-family="'Liberation Sans', sans-serif" font-size="9.1" fill="#231f20" text-anchor="middle" stroke="#231f20" stroke-width="0.15">08C35</text>
<text transform="translate(137.28 821.20) scale(1.0 0.943)" font-family="'Liberation Sans', sans-serif" font-size="10.5" fill="#231f20" text-anchor="middle" stroke="#231f20" stroke-width="0.25">Other Refrigerants</text>
<rect x="205.60" y="812.61" width="164.80" height="13.40" fill="#fdd06f" stroke="#1b1718" stroke-width="1.2"/>
<text transform="translate(288.00 822.21) scale(1.0 0.943)" font-family="'Liberation Sans', sans-serif" font-size="9.1" fill="#231f20" text-anchor="middle" stroke="#231f20" stroke-width="0.15">08C35</text>
<rect x="381.20" y="812.61" width="110.90" height="13.40" fill="#3c8762" stroke="#1b1718" stroke-width="1.2"/>
<text transform="translate(436.65 822.21) scale(1.0 0.943)" font-family="'Liberation Sans', sans-serif" font-size="9.1" fill="#fff" text-anchor="middle" stroke="#fff" stroke-width="0.15">14E53</text>
<rect x="502.80" y="812.61" width="164.60" height="13.40" fill="#fdd06f" stroke="#1b1718" stroke-width="1.2"/>
<text transform="translate(585.10 822.21) scale(1.0 0.943)" font-family="'Liberation Sans', sans-serif" font-size="9.1" fill="#231f20" text-anchor="middle" stroke="#231f20" stroke-width="0.15">08C35</text>
<text transform="translate(137.28 845.50) scale(1.15 0.943)" font-family="'Liberation Sans', sans-serif" font-size="10.7" font-weight="bold" fill="#231f20" text-anchor="middle" textLength="96.35" lengthAdjust="spacing" stroke="#231f20" stroke-width="0.2">MISCELLANEOUS</text>
<text transform="translate(137.28 867.60) scale(1.0 0.943)" font-family="'Liberation Sans', sans-serif" font-size="10.5" fill="#231f20" text-anchor="middle" stroke="#231f20" stroke-width="0.25">Natural Gas</text>
<rect x="205.60" y="858.20" width="164.80" height="13.40" fill="#fdd06f" stroke="#1b1718" stroke-width="1.2"/>
<text transform="translate(288.00 867.80) scale(1.0 0.943)" font-family="'Liberation Sans', sans-serif" font-size="9.1" fill="#231f20" text-anchor="middle" stroke="#231f20" stroke-width="0.15">08C35</text>
<rect x="381.20" y="858.20" width="110.90" height="13.40" fill="#e9bb14" stroke="#1b1718" stroke-width="1.2"/>
<text transform="translate(436.65 867.80) scale(1.0 0.943)" font-family="'Liberation Sans', sans-serif" font-size="9.1" fill="#231f20" text-anchor="middle" stroke="#231f20" stroke-width="0.15">10E53</text>
<rect x="502.80" y="858.20" width="164.60" height="13.40" fill="#fdd06f" stroke="#1b1718" stroke-width="1.2"/>
<text transform="translate(585.10 867.80) scale(1.0 0.943)" font-family="'Liberation Sans', sans-serif" font-size="9.1" fill="#231f20" text-anchor="middle" stroke="#231f20" stroke-width="0.15">08C35</text>
<text transform="translate(137.28 889.70) scale(1.0 0.943)" font-family="'Liberation Sans', sans-serif" font-size="10.5" fill="#231f20" text-anchor="middle" stroke="#231f20" stroke-width="0.25">Compressed Air</text>
<rect x="205.60" y="880.30" width="164.80" height="13.40" fill="#66a8d8" stroke="#1b1718" stroke-width="1.2"/>
<text transform="translate(288.00 889.90) scale(1.0 0.943)" font-family="'Liberation Sans', sans-serif" font-size="9.1" fill="#fff" text-anchor="middle" stroke="#fff" stroke-width="0.15">20E51</text>
<rect x="381.20" y="880.30" width="110.90" height="13.40" fill="#66a8d8" stroke="#1b1718" stroke-width="1.2"/>
<text transform="translate(436.65 889.90) scale(1.0 0.943)" font-family="'Liberation Sans', sans-serif" font-size="9.1" fill="#fff" text-anchor="middle" stroke="#fff" stroke-width="0.15">20E51</text>
<rect x="502.80" y="880.30" width="164.60" height="13.40" fill="#66a8d8" stroke="#1b1718" stroke-width="1.2"/>
<text transform="translate(585.10 889.90) scale(1.0 0.943)" font-family="'Liberation Sans', sans-serif" font-size="9.1" fill="#fff" text-anchor="middle" stroke="#fff" stroke-width="0.15">20E51</text>
<text transform="translate(137.28 911.80) scale(1.0 0.943)" font-family="'Liberation Sans', sans-serif" font-size="10.5" fill="#231f20" text-anchor="middle" stroke="#231f20" stroke-width="0.25">Vacuum</text>
<rect x="205.60" y="902.40" width="164.80" height="13.40" fill="#66a8d8" stroke="#1b1718" stroke-width="1.2"/>
<text transform="translate(288.00 912.00) scale(1.0 0.943)" font-family="'Liberation Sans', sans-serif" font-size="9.1" fill="#fff" text-anchor="middle" stroke="#fff" stroke-width="0.15">20E51</text>
<rect x="381.20" y="902.40" width="110.90" height="13.40" fill="#ffffff" stroke="#1b1718" stroke-width="1.2"/>
<text transform="translate(436.65 912.00) scale(1.0 0.943)" font-family="'Liberation Sans', sans-serif" font-size="9.1" fill="#231f20" text-anchor="middle" stroke="#231f20" stroke-width="0.15">00E55</text>
<rect x="502.80" y="902.40" width="164.60" height="13.40" fill="#66a8d8" stroke="#1b1718" stroke-width="1.2"/>
<text transform="translate(585.10 912.00) scale(1.0 0.943)" font-family="'Liberation Sans', sans-serif" font-size="9.1" fill="#fff" text-anchor="middle" stroke="#fff" stroke-width="0.15">20E51</text>
<text transform="translate(137.28 933.90) scale(1.0 0.943)" font-family="'Liberation Sans', sans-serif" font-size="10.5" fill="#231f20" text-anchor="middle" stroke="#231f20" stroke-width="0.25">Steam</text>
<rect x="205.60" y="924.50" width="164.80" height="13.40" fill="#c6c7bd" stroke="#1b1718" stroke-width="1.2"/>
<text transform="translate(288.00 934.10) scale(1.0 0.943)" font-family="'Liberation Sans', sans-serif" font-size="9.1" fill="#231f20" text-anchor="middle" stroke="#231f20" stroke-width="0.15">10A03</text>
<rect x="381.20" y="924.50" width="110.90" height="13.40" fill="#c6c7bd" stroke="#1b1718" stroke-width="1.2"/>
<text transform="translate(436.65 934.10) scale(1.0 0.943)" font-family="'Liberation Sans', sans-serif" font-size="9.1" fill="#231f20" text-anchor="middle" stroke="#231f20" stroke-width="0.15">10A03</text>
<rect x="502.80" y="924.50" width="164.60" height="13.40" fill="#c6c7bd" stroke="#1b1718" stroke-width="1.2"/>
<text transform="translate(585.10 934.10) scale(1.0 0.943)" font-family="'Liberation Sans', sans-serif" font-size="9.1" fill="#231f20" text-anchor="middle" stroke="#231f20" stroke-width="0.15">10A03</text>
<text transform="translate(137.28 956.00) scale(1.0 0.943)" font-family="'Liberation Sans', sans-serif" font-size="10.5" fill="#231f20" text-anchor="middle" stroke="#231f20" stroke-width="0.25">Drainage</text>
<rect x="205.60" y="946.60" width="164.80" height="13.40" fill="#231f20" stroke="#1b1718" stroke-width="1.2"/>
<text transform="translate(288.00 956.20) scale(1.0 0.943)" font-family="'Liberation Sans', sans-serif" font-size="9.1" fill="#fff" text-anchor="middle" stroke="#fff" stroke-width="0.15">00E53</text>
<rect x="381.20" y="946.60" width="110.90" height="13.40" fill="#231f20" stroke="#1b1718" stroke-width="1.2"/>
<text transform="translate(436.65 956.20) scale(1.0 0.943)" font-family="'Liberation Sans', sans-serif" font-size="9.1" fill="#fff" text-anchor="middle" stroke="#fff" stroke-width="0.15">00E53</text>
<rect x="502.80" y="946.60" width="164.60" height="13.40" fill="#231f20" stroke="#1b1718" stroke-width="1.2"/>
<text transform="translate(585.10 956.20) scale(1.0 0.943)" font-family="'Liberation Sans', sans-serif" font-size="9.1" fill="#fff" text-anchor="middle" stroke="#fff" stroke-width="0.15">00E53</text>
<text transform="translate(137.28 978.10) scale(1.0 0.943)" font-family="'Liberation Sans', sans-serif" font-size="10.5" fill="#231f20" text-anchor="middle" stroke="#231f20" stroke-width="0.25">Electrical conduits / ducts</text>
<rect x="205.60" y="968.70" width="164.80" height="13.40" fill="#f47b4d" stroke="#1b1718" stroke-width="1.2"/>
<text transform="translate(288.00 978.30) scale(1.0 0.943)" font-family="'Liberation Sans', sans-serif" font-size="9.1" fill="#fff3e0" text-anchor="middle" stroke="#fff3e0" stroke-width="0.15">06E51</text>
<rect x="381.20" y="968.70" width="110.90" height="13.40" fill="#f47b4d" stroke="#1b1718" stroke-width="1.2"/>
<text transform="translate(436.65 978.30) scale(1.0 0.943)" font-family="'Liberation Sans', sans-serif" font-size="9.1" fill="#fff3e0" text-anchor="middle" stroke="#fff3e0" stroke-width="0.15">06E51</text>
<rect x="502.80" y="968.70" width="164.60" height="13.40" fill="#f47b4d" stroke="#1b1718" stroke-width="1.2"/>
<text transform="translate(585.10 978.30) scale(1.0 0.943)" font-family="'Liberation Sans', sans-serif" font-size="9.1" fill="#fff3e0" text-anchor="middle" stroke="#fff3e0" stroke-width="0.15">06E51</text>
<text transform="translate(137.28 1000.20) scale(1.0 0.943)" font-family="'Liberation Sans', sans-serif" font-size="10.5" fill="#231f20" text-anchor="middle" stroke="#231f20" stroke-width="0.25">Acids and alkalis</text>
<rect x="205.60" y="990.80" width="164.80" height="13.40" fill="#7a73c3" stroke="#1b1718" stroke-width="1.2"/>
<text transform="translate(288.00 1000.40) scale(1.0 0.943)" font-family="'Liberation Sans', sans-serif" font-size="9.1" fill="#fff" text-anchor="middle" stroke="#fff" stroke-width="0.15">22C37</text>
<rect x="381.20" y="990.80" width="110.90" height="13.40" fill="#7a73c3" stroke="#1b1718" stroke-width="1.2"/>
<text transform="translate(436.65 1000.40) scale(1.0 0.943)" font-family="'Liberation Sans', sans-serif" font-size="9.1" fill="#fff" text-anchor="middle" stroke="#fff" stroke-width="0.15">22C37</text>
<rect x="502.80" y="990.80" width="164.60" height="13.40" fill="#7a73c3" stroke="#1b1718" stroke-width="1.2"/>
<text transform="translate(585.10 1000.40) scale(1.0 0.943)" font-family="'Liberation Sans', sans-serif" font-size="9.1" fill="#fff" text-anchor="middle" stroke="#fff" stroke-width="0.15">22C37</text>
</g>
</svg>
</body>
</html>
